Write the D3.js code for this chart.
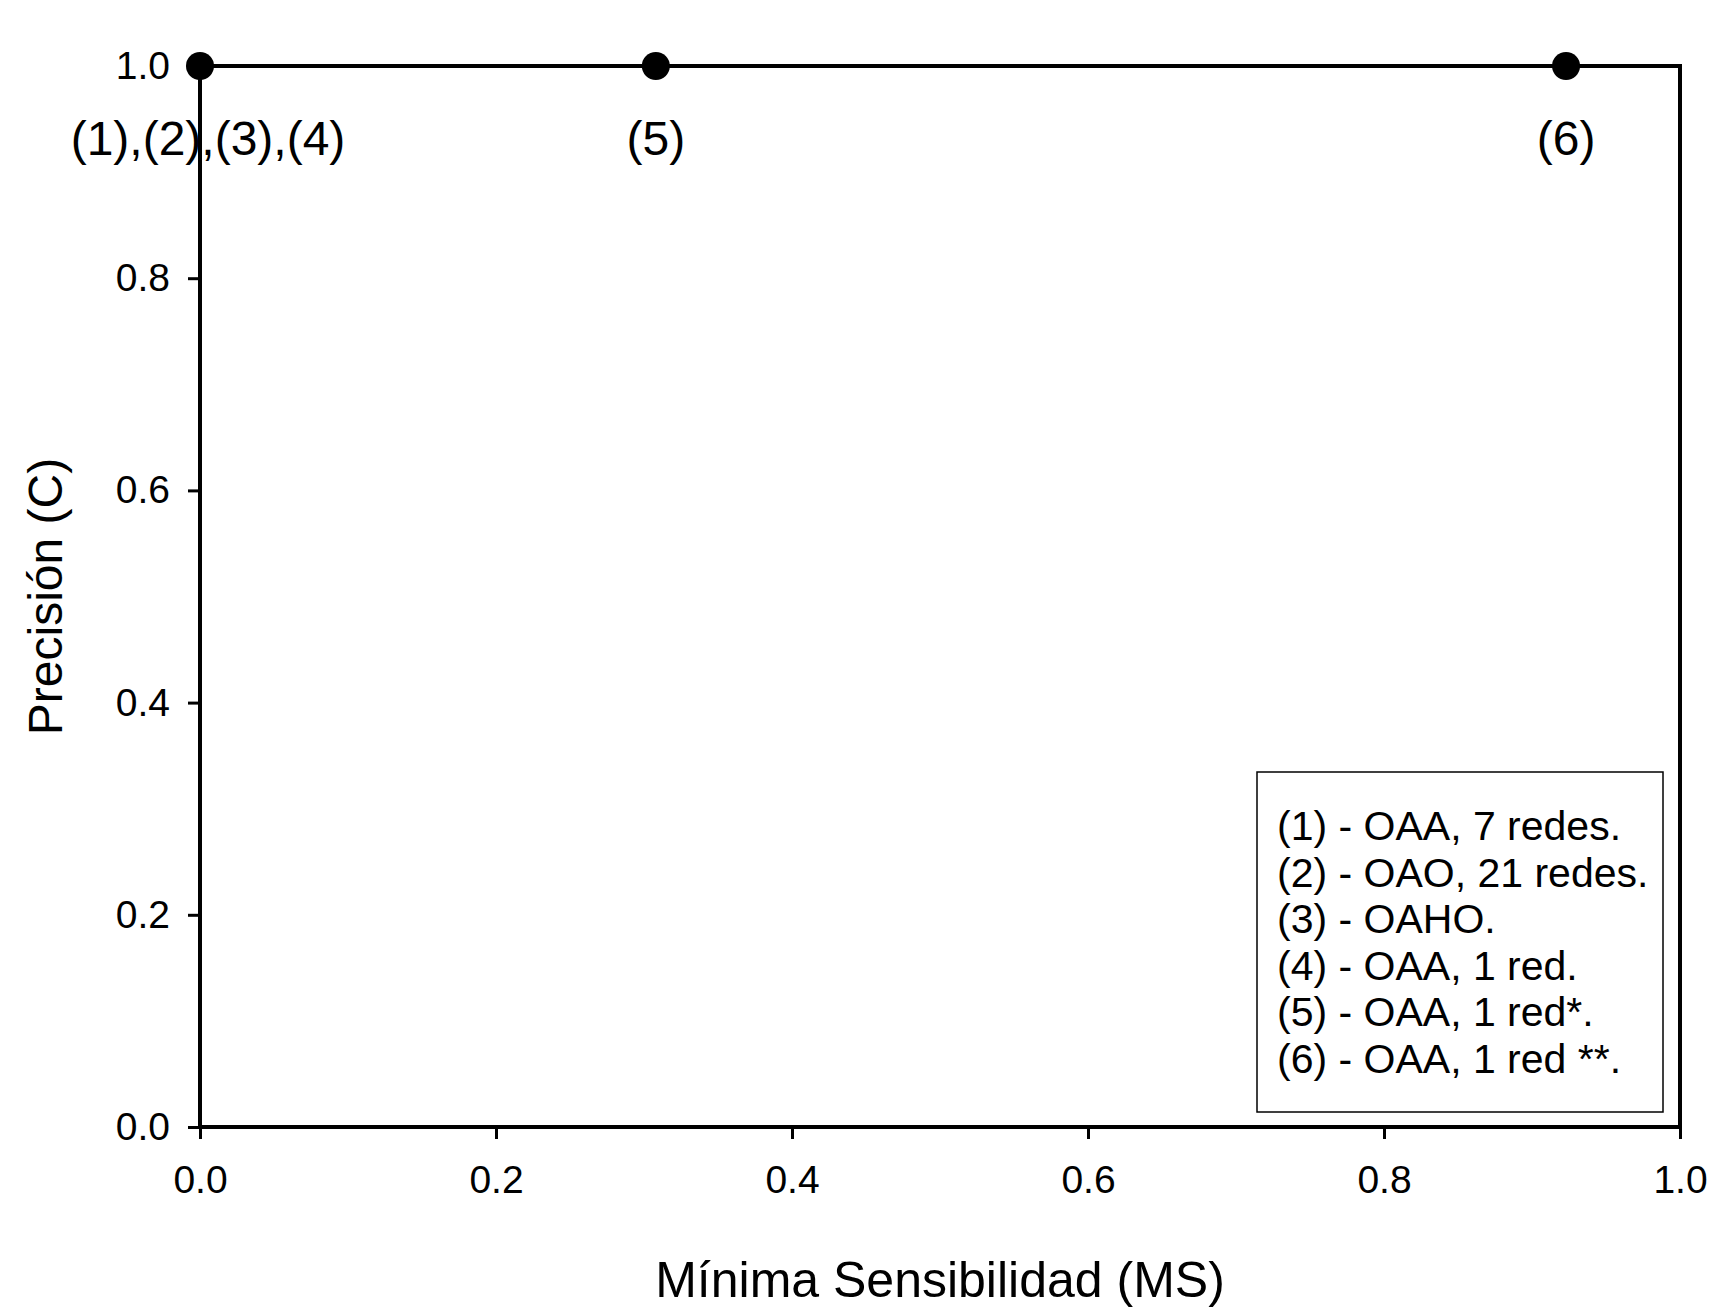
<!DOCTYPE html>
<html><head><meta charset="utf-8">
<script src="https://cdn.jsdelivr.net/npm/d3@7"></script>
<style>body{margin:0;background:#fff}text{font-family:Arial,"Liberation Sans",sans-serif}</style>
</head><body><svg id="c" width="1727" height="1314"></svg>
<script>
var xs = [0, 0.308, 0.923];
var ys = [1, 1, 1];
var pointLabels = ["(1),(2),(3),(4)", "(5)", "(6)"];
var ticks = [0, 0.2, 0.4, 0.6, 0.8, 1.0];
var legendLines = ["(1) - OAA, 7 redes.", "(2) - OAO, 21 redes.", "(3) - OAHO.", "(4) - OAA, 1 red.", "(5) - OAA, 1 red*.", "(6) - OAA, 1 red **."];

var svg = d3.select("#c");
var L = 200, R = 1680, T = 66, B = 1127;
var x = d3.scaleLinear().domain([0, 1]).range([L, R]);
var y = d3.scaleLinear().domain([0, 1]).range([B, T]);

svg.append("rect").attr("x", L).attr("y", T).attr("width", R - L).attr("height", B - T)
  .attr("fill", "none").attr("stroke", "#000").attr("stroke-width", 4);

var gx = svg.append("g").attr("transform", "translate(0," + B + ")")
  .call(d3.axisBottom(x).tickValues(ticks).tickFormat(d3.format(".1f")).tickSize(12).tickPadding(26));
var gy = svg.append("g").attr("transform", "translate(" + L + ",0)")
  .call(d3.axisLeft(y).tickValues(ticks).tickFormat(d3.format(".1f")).tickSize(12).tickPadding(18));
[gx, gy].forEach(function(g){
  g.select(".domain").remove();
  g.selectAll("line").attr("stroke-width", 3);
  g.selectAll("text").attr("font-size", 39).attr("fill", "#000");
});

svg.append("path").datum(xs.map(function(v, i){ return [v, ys[i]]; }))
  .attr("d", d3.line().x(function(d){ return x(d[0]); }).y(function(d){ return y(d[1]); }))
  .attr("stroke", "#000").attr("stroke-width", 4).attr("fill", "none");
svg.selectAll("circle").data(xs).enter().append("circle")
  .attr("cx", function(d){ return x(d); }).attr("cy", function(d, i){ return y(ys[i]); })
  .attr("r", 14).attr("fill", "#000");
svg.selectAll(".pl").data(xs).enter().append("text")
  .attr("x", function(d, i){ return i === 0 ? x(d) + 8 : x(d); }).attr("y", 155)
  .attr("text-anchor", "middle").attr("font-size", 48).text(function(d, i){ return pointLabels[i]; });

svg.append("text").attr("x", (L + R) / 2 + 0).attr("y", 1297).attr("text-anchor", "middle")
  .attr("font-size", 50).text("Mínima Sensibilidad (MS)");
svg.append("text").attr("transform", "translate(62," + ((T + B) / 2) + ") rotate(-90)")
  .attr("text-anchor", "middle").attr("font-size", 48).text("Precisión (C)");

svg.append("rect").attr("x", 1257).attr("y", 772).attr("width", 406).attr("height", 340)
  .attr("fill", "#fff").attr("stroke", "#000").attr("stroke-width", 1.5);
svg.selectAll(".lg").data(legendLines).enter().append("text")
  .attr("x", 1277).attr("y", function(d, i){ return 840 + i * 46.5; })
  .attr("font-size", 41).text(function(d){ return d; });
</script></body></html>
